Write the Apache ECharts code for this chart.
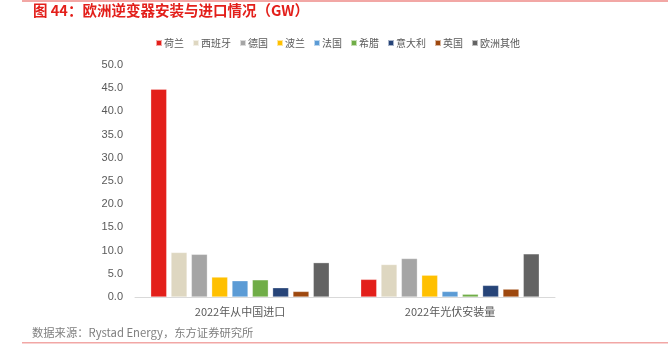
<!DOCTYPE html>
<html><head><meta charset="utf-8">
<script src="https://cdn.jsdelivr.net/npm/echarts@6/dist/echarts.min.js"></script>
<style>html,body{margin:0;padding:0;background:#fff;}#c{width:668px;height:348px;}</style>
</head><body><div id="c"></div>
<script>
var categories = ['2022年从中国进口', '2022年光伏安装量'];
var seriesNames = ['荷兰', '西班牙', '德国', '波兰', '法国', '希腊', '意大利', '英国', '欧洲其他'];
var netherlands = [44.8, 3.8];
var spain = [9.6, 7.0];
var germany = [9.2, 8.3];
var poland = [4.3, 4.7];
var france = [3.5, 1.2];
var greece = [3.7, 0.6];
var italy = [2.0, 2.5];
var uk = [1.2, 1.7];
var others = [7.4, 9.3];
var yTicks = [0, 50, 5];
var colors = ['#E31F1A', '#DED7C1', '#A5A5A5', '#FFC000', '#5B9BD5', '#70AD47', '#264478', '#9E480E', '#636363'];
var allData = [netherlands, spain, germany, poland, france, greece, italy, uk, others];

var chart = echarts.init(document.getElementById('c'));
var series = seriesNames.map(function (n, i) {
  return {
    name: n, type: 'bar', data: allData[i], barWidth: 16, barGap: '27%',
    itemStyle: { color: colors[i], borderColor: 'rgba(255,255,255,0.6)', borderWidth: 0.5 }
  };
});
chart.setOption({
  animation: false,
  graphic: [
    { type: 'rect', shape: { x: 22, y: 0, width: 646, height: 2 }, style: { fill: '#F2A7A5' } },
    { type: 'text', left: 33, top: 3, style: { text: '图 44：欧洲逆变器安装与进口情况（GW）', fill: '#E31F1A', font: 'bold 14.5px "Noto Sans CJK SC", sans-serif' } },
    { type: 'text', left: 32, top: 327, style: { text: '数据来源：Rystad Energy，东方证券研究所', fill: '#7F7F7F', font: '11.3px "Noto Sans CJK SC", sans-serif' } },
    { type: 'rect', shape: { x: 22, y: 342, width: 646, height: 1.5 }, style: { fill: '#F2A7A5' } }
  ],
  legend: {
    top: 33, left: 150, itemWidth: 6, itemHeight: 6, itemGap: 8, icon: 'rect',
    textStyle: { color: '#595959', fontSize: 10, fontFamily: '"Noto Sans CJK SC", sans-serif', padding: [0, 0, 0, -3] },
    data: seriesNames
  },
  grid: { left: 135, right: 113, top: 65, bottom: 51, containLabel: false },
  xAxis: {
    type: 'category', data: categories,
    axisLine: { lineStyle: { color: '#D9D9D9' } }, axisTick: { show: false },
    axisLabel: { color: '#595959', fontSize: 11, margin: 9, fontFamily: '"Noto Sans CJK SC", sans-serif' }
  },
  yAxis: {
    type: 'value', min: yTicks[0], max: yTicks[1], interval: yTicks[2],
    splitLine: { show: false }, axisLine: { show: false }, axisTick: { show: false },
    axisLabel: { color: '#595959', fontSize: 11, margin: 12, formatter: function (v) { return v.toFixed(1); } }
  },
  series: series
});
</script></body></html>
